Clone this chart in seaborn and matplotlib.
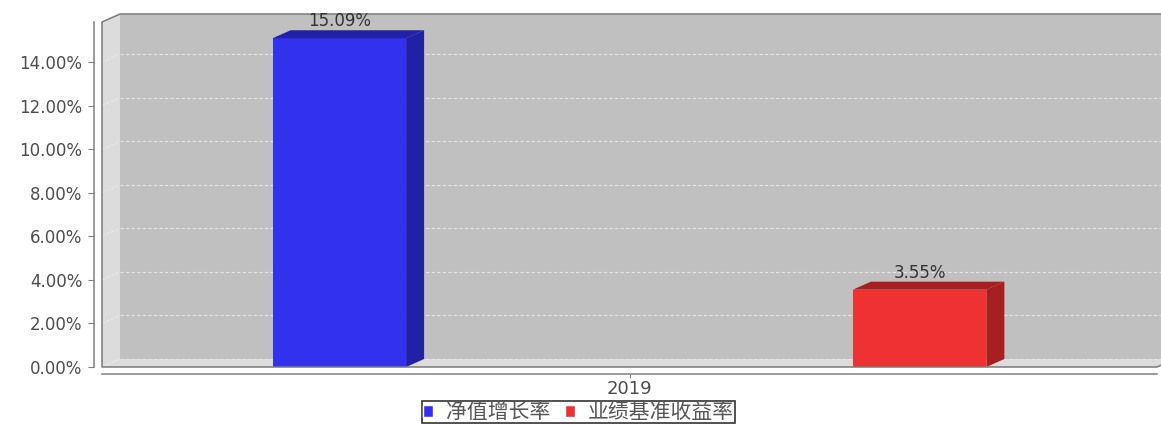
import numpy as np
import pandas as pd
import matplotlib
matplotlib.use("Agg")
import matplotlib.pyplot as plt
from matplotlib.patches import Polygon
import seaborn as sns

# data
years = ["2019", "2019"]
series = ["净值增长率", "业绩基准收益率"]
values = [15.09, 3.55]
yticks = [0, 2, 4, 6, 8, 10, 12, 14]

front_colors = ["#3232ee", "#ee3232"]
side_colors = ["#2121a6", "#a81f1f"]

sns.set_style("white")
plt.rcParams['font.family'] = ['DejaVu Sans', 'Noto Sans CJK SC']

W, H = 1161, 425
fig = plt.figure(figsize=(W / 100, H / 100), dpi=100)
# axes box in pixels: x 102..1157, y 367..14
ax = fig.add_axes([102 / W, (H - 367) / H, 1055 / W, 353 / H])

df = pd.DataFrame({"year": years, "series": series, "value": values})
sns.barplot(data=df, x="year", y="value", hue="series", palette=front_colors,
            width=1.1, gap=0.77, errorbar=None, saturation=1, ax=ax)

px_y = 21.786  # pixels per 1%
ax.set_xlim(-0.5, 0.5)
ax.set_ylim(0, 353 / px_y)
DX = 18 / 1055   # 3d depth in data units
DY = 8 / px_y
TOP = (353 - 8) / px_y

bars = list(ax.patches)
handles, labels = ax.get_legend_handles_labels()
if ax.get_legend() is not None:
    ax.get_legend().remove()

# walls
wall = '#dcdcdc'
back = '#c0c0c0'
ax.add_patch(Polygon([(-0.5 + DX, DY), (0.5 + DX, DY), (0.5 + DX, TOP + DY), (-0.5 + DX, TOP + DY)],
                     fc=back, ec='none', zorder=0, clip_on=False))
ax.add_patch(Polygon([(-0.5, 0), (-0.5 + DX, DY), (-0.5 + DX, TOP + DY), (-0.5, TOP)],
                     fc=wall, ec='none', zorder=0, clip_on=False))
ax.add_patch(Polygon([(-0.5, 0), (-0.5 + DX, DY), (0.5 + DX, DY), (0.5, 0)],
                     fc=wall, ec='none', zorder=0, clip_on=False))

# gridlines on the walls
for v in yticks:
    ax.plot([-0.5, -0.5 + DX], [v, v + DY], color='#ececec', lw=0.7, ls=(0, (3, 2)),
            zorder=0.5, clip_on=False)
    ax.plot([-0.5 + DX, 0.5 + DX], [v + DY, v + DY], color='#e6e6e6', lw=0.8, ls=(0, (3, 2)),
            zorder=0.5, clip_on=False)

# frame of the plot area
frame = '#7a7a7a'
ax.plot([0.5 + DX, -0.5 + DX, -0.5, -0.5, 0.5, 0.5 + DX],
        [TOP + DY, TOP + DY, TOP, 0, 0, DY], color=frame, lw=1.1, zorder=3, clip_on=False)

# 3d sides and tops of the bars
for p, side, v in zip(bars, side_colors, values):
    x0 = p.get_x()
    x1 = x0 + p.get_width()
    h = p.get_height()
    p.set_zorder(2)
    p.set_edgecolor('none')
    ax.add_patch(Polygon([(x1, 0), (x1 + DX, DY), (x1 + DX, h + DY), (x1, h)],
                         fc=side, ec='none', zorder=2))
    ax.add_patch(Polygon([(x0, h), (x0 + DX, h + DY), (x1 + DX, h + DY), (x1, h)],
                         fc=side, ec='none', zorder=2))
    ax.text(x0 + p.get_width() / 2, h + DY, f"{v:.2f}%", ha='center', va='bottom',
            fontsize=12, color='#333333', zorder=4)

# axes
ax.spines['top'].set_visible(False)
ax.spines['right'].set_visible(False)
ax.spines['left'].set_position(('outward', 6))
ax.spines['left'].set_bounds(0, TOP)
ax.spines['bottom'].set_position(('outward', 5))
for s in ['left', 'bottom']:
    ax.spines[s].set_color('#808080')
    ax.spines[s].set_linewidth(1.1)

ax.set_yticks(yticks)
ax.set_yticklabels([f"{v:.2f}%" for v in yticks])
ax.tick_params(axis='y', left=True, length=4, color='#808080', labelcolor='#4d4d4d',
               labelsize=12, pad=4)
ax.tick_params(axis='x', bottom=True, length=3, color='#808080', labelcolor='#4d4d4d',
               labelsize=13, pad=1)
ax.set_xlabel('')
ax.set_ylabel('')

# legend at the bottom edge
leg = fig.legend(handles, labels, loc='upper left', bbox_to_anchor=(422 / W, 1 - 401 / H),
                 ncol=2, frameon=True, fancybox=False, edgecolor='black', fontsize=15,
                 handlelength=0.5, handleheight=0.5, handletextpad=0.6,
                 columnspacing=0.7, borderpad=0.05, borderaxespad=0, labelcolor='#555555')
leg.get_frame().set_linewidth(1.2)

fig.savefig('out.png', dpi=100)
